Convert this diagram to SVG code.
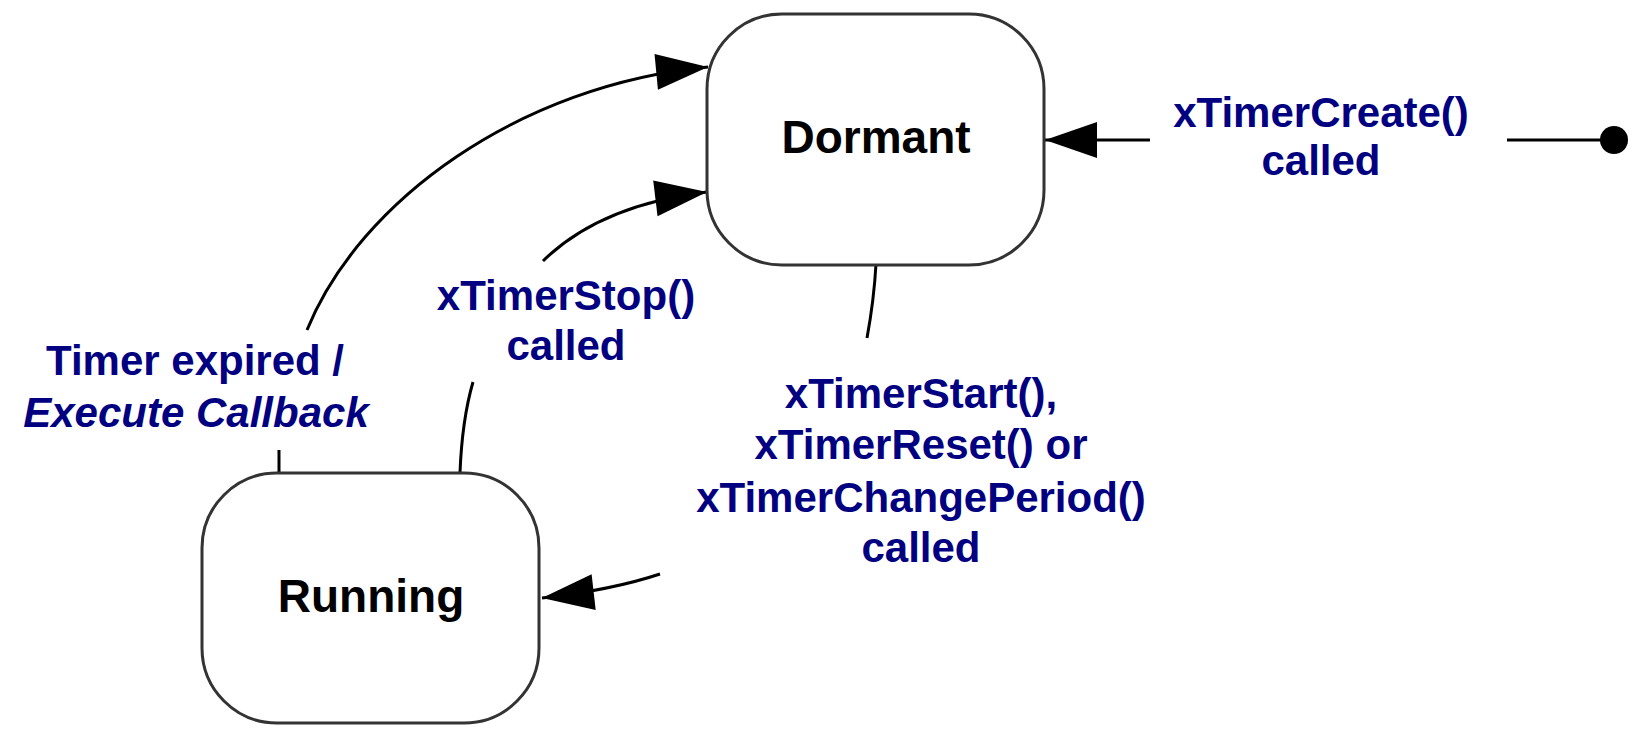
<svg xmlns="http://www.w3.org/2000/svg" width="1640" height="732" viewBox="0 0 1640 732">
  <style>
    .state { fill: #ffffff; stroke: #333333; stroke-width: 3; }
    .stateText { font-family: "Liberation Sans", Arial, sans-serif; font-weight: bold; font-size: 46px; fill: #000000; text-anchor: middle; }
    .label { font-family: "Liberation Sans", Arial, sans-serif; font-weight: bold; font-size: 42px; fill: #000080; text-anchor: middle; }
    .italic { font-style: italic; }
    .edge { fill: none; stroke: #000000; stroke-width: 3; }
  </style>
  <defs>
    <marker id="arrow" markerUnits="userSpaceOnUse" markerWidth="54" markerHeight="38" refX="53" refY="19" orient="auto">
      <path d="M1,1 L53,19 L1,37 Z" fill="#000000"/>
    </marker>
  </defs>
  <rect width="1640" height="732" fill="#ffffff"/>

  <g id="connectors">
    <!-- initial pseudo-state to Dormant -->
    <g id="edge-create">
      <circle cx="1614" cy="140" r="14" fill="#000000"/>
      <path class="edge" d="M1507,140 L1605,140"/>
      <path class="edge" d="M1150,140 L1045,140" marker-end="url(#arrow)"/>
    </g>
    <!-- Dormant to Running -->
    <g id="edge-start">
      <path class="edge" d="M876,264 Q874,300 867,338"/>
      <path class="edge" d="M660,574 Q612,590 542,598" marker-end="url(#arrow)"/>
    </g>
    <!-- Running to Dormant (stop) -->
    <g id="edge-stop">
      <path class="edge" d="M460,473 Q462,420 473,382"/>
      <path class="edge" d="M543,261 Q600,205 707,192" marker-end="url(#arrow)"/>
    </g>
    <!-- Running to Dormant (expired) -->
    <g id="edge-expired">
      <path class="edge" d="M279,473 L279,450"/>
      <path class="edge" d="M307,330 C360,200 520,85 708,67" marker-end="url(#arrow)"/>
    </g>
  </g>

  <g id="node-dormant">
    <rect class="state" x="707" y="14" width="337" height="251" rx="75" ry="75"/>
    <text class="stateText" x="876" y="153">Dormant</text>
  </g>

  <g id="node-running">
    <rect class="state" x="202" y="473" width="337" height="250" rx="75" ry="75"/>
    <text class="stateText" x="371" y="612">Running</text>
  </g>

  <g id="labels">
    <text class="label" x="1321" y="127">xTimerCreate()</text>
    <text class="label" x="1321" y="175">called</text>

    <text class="label" x="566" y="310">xTimerStop()</text>
    <text class="label" x="566" y="360">called</text>

    <text class="label" x="195" y="375">Timer expired /</text>
    <text class="label italic" x="196" y="427">Execute Callback</text>

    <text class="label" x="921" y="408">xTimerStart(),</text>
    <text class="label" x="921" y="459">xTimerReset() or</text>
    <text class="label" x="921" y="512">xTimerChangePeriod()</text>
    <text class="label" x="921" y="562">called</text>
  </g>
</svg>
